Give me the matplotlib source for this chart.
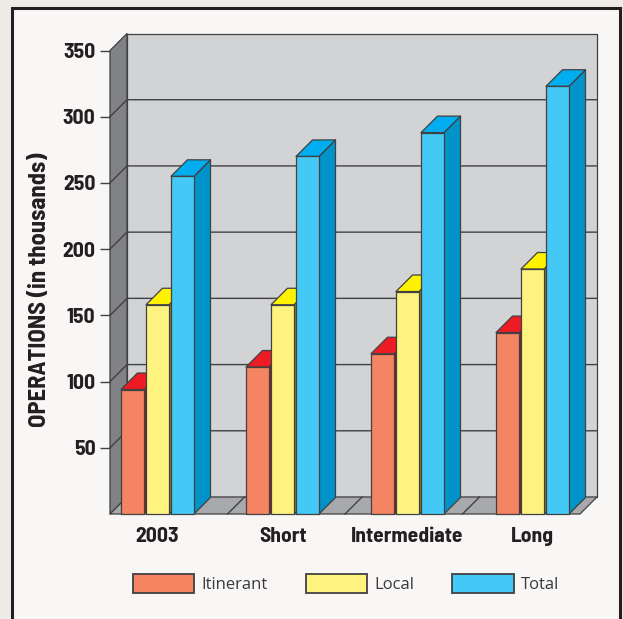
#!/usr/bin/env python3
"""Operations forecast bars drawn with a fake 3D box look."""

import matplotlib
matplotlib.use("Agg")
import matplotlib.pyplot as plt
import numpy as np
from matplotlib.patches import Patch, Polygon, Rectangle

categories = ["2003", "Short", "Intermediate", "Long"]
itinerant = [94, 111, 121, 137]
local = [158, 158, 168, 185]
total = [255, 270, 288, 323]
y_ticks = [50, 100, 150, 200, 250, 300, 350]

FW, FH = 623, 619
LEFT, RIGHT, BOTTOM, TOP = 110, 580, 514, 50.5
X0, X1 = -0.38, 3.38
Y1 = 350
PX_X = (RIGHT - LEFT) / (X1 - X0)
PX_Y = (BOTTOM - TOP) / Y1
DX, DY = 17 / PX_X, 17 / PX_Y  # depth of the box in data units
BAR_DX, BAR_DY = 16.5 / PX_X, 16.5 / PX_Y

LINE = "#414042"
NARROW = ["Barlow Semi Condensed", "Barlow Condensed", "Liberation Sans", "DejaVu Sans"]

series = [
    ("Itinerant", itinerant, "#f58462", "#ed1c24", "#8e1a1e"),
    ("Local", local, "#fff380", "#fff200", "#8a7d1c"),
    ("Total", total, "#44c8f5", "#00aeef", "#0093c9"),
]


def poly(ax, pts, color, z, lw=0.9):
    ax.add_patch(Polygon(pts, closed=True, facecolor=color, edgecolor=LINE, linewidth=lw, zorder=z, clip_on=False, joinstyle="round"))


fig = plt.figure(figsize=(FW / 100, FH / 100), dpi=100, facecolor="#efece7")
fig.add_artist(Rectangle((12 / FW, -0.01), (620 - 12) / FW, 1.01 - 7.5 / FH, transform=fig.transFigure, facecolor="#f8f7f5", edgecolor="#231f20", linewidth=2.2, zorder=-1))

ax = fig.add_axes([LEFT / FW, 1 - BOTTOM / FH, (RIGHT - LEFT) / FW, (BOTTOM - TOP) / FH])
ax.patch.set_visible(False)
ax.set_xlim(X0, X1)
ax.set_ylim(0, Y1)

# walls and floor
poly(ax, [(X0 + DX, DY), (X1 + DX, DY), (X1 + DX, Y1 + DY), (X0 + DX, Y1 + DY)], "#d1d3d4", 1)
poly(ax, [(X0, 0), (X0 + DX, DY), (X0 + DX, Y1 + DY), (X0, Y1)], "#808285", 1)
poly(ax, [(X0, 0), (X1, 0), (X1 + DX, DY), (X0 + DX, DY)], "#a7a9ac", 1)

for v in y_ticks[:-1]:
    ax.plot([X0, X0 + DX, X1 + DX], [v, v + DY, v + DY], color=LINE, lw=1.0, zorder=2, clip_on=False)
for x in np.linspace(X0, X1, len(categories) + 1)[1:-1]:
    ax.plot([x, x + DX], [0, DY], color=LINE, lw=1.0, zorder=2, clip_on=False)

# bars, left to right so each one covers the side of the one before
bar_w = 23 / PX_X
step = 25 / PX_X
z = 3
for i in range(len(categories)):
    for j, (name, values, front, top, side) in enumerate(series):
        x = i + (j - 1) * step - bar_w / 2
        v = values[i]
        poly(ax, [(x + bar_w, 0), (x + bar_w + BAR_DX, BAR_DY), (x + bar_w + BAR_DX, v + BAR_DY), (x + bar_w, v)], side, z)
        poly(ax, [(x, v), (x + bar_w, v), (x + bar_w + BAR_DX, v + BAR_DY), (x + BAR_DX, v + BAR_DY)], top, z)
        poly(ax, [(x, 0), (x + bar_w, 0), (x + bar_w, v), (x, v)], front, z)
        z += 1

for s in ["top", "right", "left", "bottom"]:
    ax.spines[s].set_visible(False)
ax.set_yticks(y_ticks)
ax.set_xticks(range(len(categories)))
ax.set_xticklabels(categories)
ax.tick_params(axis="y", length=7, width=1.0, color=LINE, pad=3.5, labelcolor="#231f20")
ax.tick_params(axis="x", length=0, pad=9, labelcolor="#231f20")
for lab in ax.get_xticklabels() + ax.get_yticklabels():
    lab.set_family(NARROW)
    lab.set_fontweight("bold")
    lab.set_fontsize(15.5)

fig.text(40 / FW, 1 - 290 / FH, "OPERATIONS (in thousands)", rotation=90, ha="center", va="center", family=NARROW, fontweight="bold", fontsize=17.7, color="#231f20")

handles = [Patch(facecolor=s[2], edgecolor=LINE, linewidth=1.3, label=s[0]) for s in series]
fs = 12
px = fs * 100 / 72
fig.legend(
    handles=handles, ncol=3, frameon=False, loc="center", bbox_to_anchor=(346 / FW, 1 - 583.5 / FH),
    prop={"family": "Open Sans", "size": fs}, labelcolor="#3a3a3c",
    handlelength=61.5 / px, handleheight=23 / px, handletextpad=7 / px, columnspacing=38 / px,
    borderpad=0, borderaxespad=0,
)

fig.savefig("out.png", dpi=100, facecolor=fig.get_facecolor())
